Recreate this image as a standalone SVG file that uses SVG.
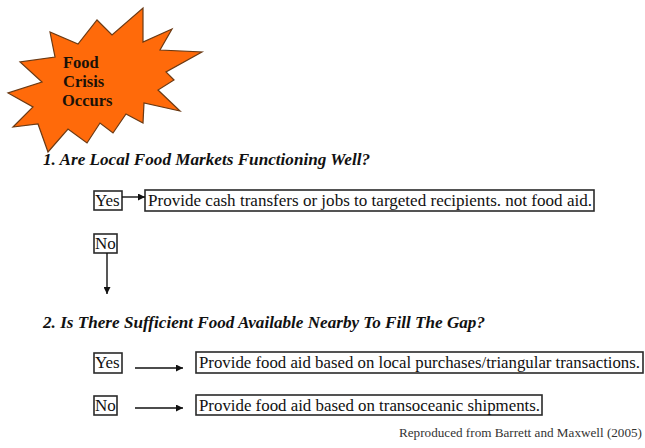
<svg xmlns="http://www.w3.org/2000/svg" width="645" height="448" viewBox="0 0 645 448">
  <defs>
    <marker id="head" viewBox="0 0 10 10" refX="10" refY="5" markerWidth="7" markerHeight="7" markerUnits="userSpaceOnUse" orient="auto">
      <path d="M0,0 L10,5 L0,10 Z" fill="#111"/>
    </marker>
    <style>
      .box { fill: #fff; stroke: #2a2a2a; stroke-width: 1.6; }
      text { font-family: "Liberation Serif", "DejaVu Serif", serif; }
      .txt { font-size: 17px; fill: #111; }
      .q { font-size: 16px; font-weight: bold; font-style: italic; fill: #111; }
      .burst { font-size: 16.5px; font-weight: bold; fill: #1a1208; }
      .conn { stroke: #111; stroke-width: 1.4; fill: none; marker-end: url(#head); }
      .credit { font-size: 12.5px; fill: #333; }
    </style>
  </defs>
  <rect width="645" height="448" fill="#fff"/>

  <!-- starburst -->
  <g id="food-crisis">
    <polygon fill="#ff6a0a" stroke="#6b3a14" stroke-width="1.2" stroke-linejoin="miter"
      points="202,52 166,72 174,80 158,90 180,111 144,103 143,123 126,114 113,133 100,123 87,143 68,129 48,152 38,124 13,127 33,107 8,93 42,82 20,62 55,57 50,32 78,44 97,20 112,35 143,8 143,42 172,29 160,50"/>
    <text class="burst" x="63" y="68">Food</text>
    <text class="burst" x="63" y="87">Crisis</text>
    <text class="burst" x="62" y="106">Occurs</text>
  </g>

  <!-- question 1 -->
  <g id="question-1">
    <text class="q" x="43" y="165" textLength="327" lengthAdjust="spacingAndGlyphs">1. Are Local Food Markets Functioning Well?</text>
  </g>

  <g id="q1-yes">
    <rect class="box" x="94" y="191" width="28" height="19"/>
    <text class="txt" x="95" y="206">Yes</text>
  </g>
  <g id="q1-yes-action">
    <rect class="box" x="145" y="190" width="449" height="21"/>
    <text class="txt" x="148" y="206" textLength="444" lengthAdjust="spacingAndGlyphs">Provide cash transfers or jobs to targeted recipients. not food aid.</text>
  </g>
  <g id="q1-no">
    <rect class="box" x="94" y="234" width="23" height="19"/>
    <text class="txt" x="95" y="249">No</text>
  </g>

  <!-- question 2 -->
  <g id="question-2">
    <text class="q" x="43" y="328" textLength="442" lengthAdjust="spacingAndGlyphs">2. Is There Sufficient Food Available Nearby To Fill The Gap?</text>
  </g>

  <g id="q2-yes">
    <rect class="box" x="94" y="353" width="28" height="20"/>
    <text class="txt" x="95" y="368">Yes</text>
  </g>
  <g id="q2-yes-action">
    <rect class="box" x="196" y="352" width="447" height="21"/>
    <text class="txt" x="199" y="368" textLength="441" lengthAdjust="spacingAndGlyphs">Provide food aid based on local purchases/triangular transactions.</text>
  </g>
  <g id="q2-no">
    <rect class="box" x="94" y="396" width="23" height="19"/>
    <text class="txt" x="95" y="411">No</text>
  </g>
  <g id="q2-no-action">
    <rect class="box" x="196" y="395" width="346" height="20"/>
    <text class="txt" x="199" y="411" textLength="341" lengthAdjust="spacingAndGlyphs">Provide food aid based on transoceanic shipments.</text>
  </g>

  <!-- connectors -->
  <g id="connectors">
    <line class="conn" x1="122" y1="197" x2="145" y2="197"/>
    <line class="conn" x1="107" y1="253" x2="107" y2="294"/>
    <line class="conn" x1="135" y1="368" x2="183" y2="368"/>
    <line class="conn" x1="135" y1="408" x2="183" y2="408"/>
  </g>

  <text class="credit" x="399" y="437" textLength="243" lengthAdjust="spacingAndGlyphs">Reproduced from Barrett and Maxwell (2005)</text>
</svg>
